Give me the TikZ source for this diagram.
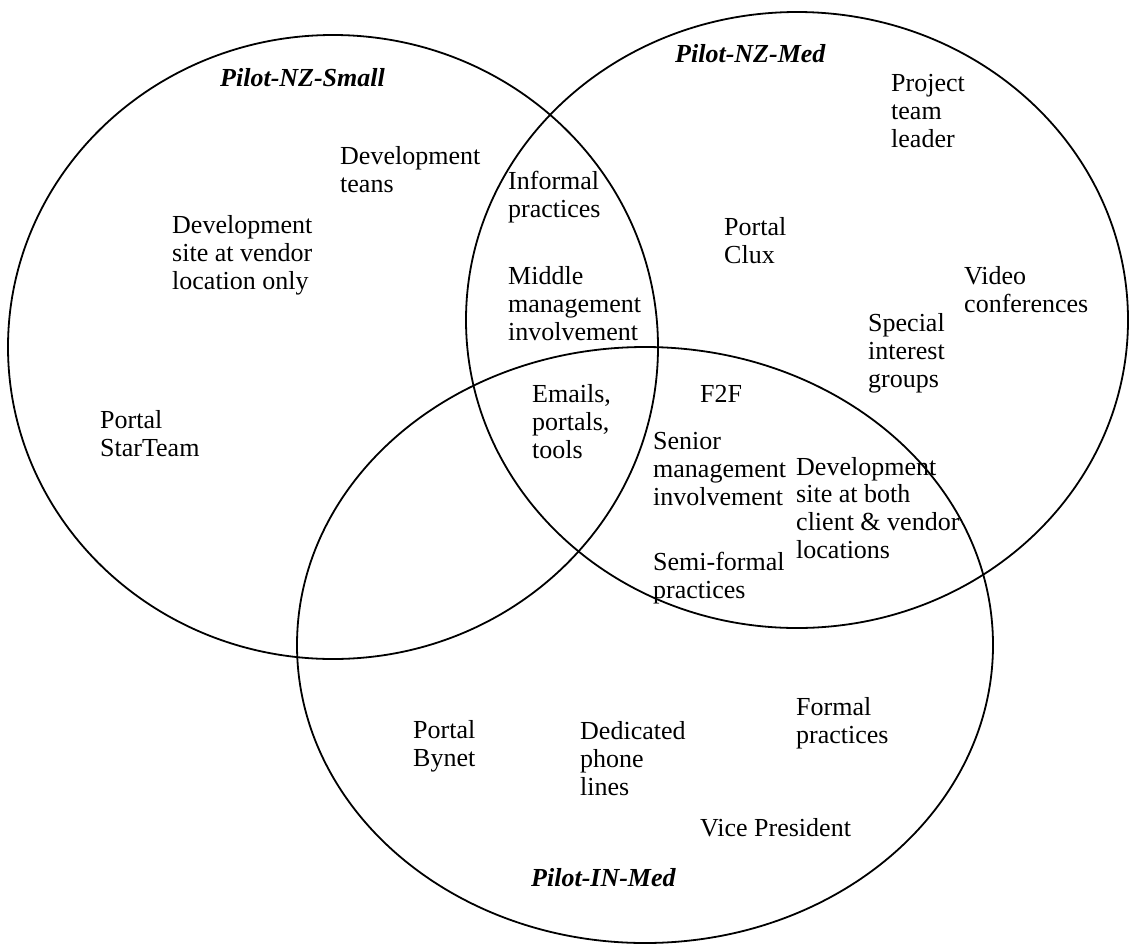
\documentclass[tikz,border=0pt]{standalone}
\usepackage{fontspec}
\setmainfont{Liberation Serif}
\begin{document}
\begin{tikzpicture}[x=1pt,y=-1pt,
  setline/.style={line width=1.8pt, black},
  % multi-line labels are placed by the baseline of their last line
  item/.style={anchor=base west, inner sep=0pt, align=left,
    font=\fontsize{26}{27.6}\selectfont},
  setname/.style={item, font=\fontsize{26}{27.6}\selectfont\bfseries\itshape}]
\useasboundingbox (0,0) rectangle (1130,946);

% the three sets
\draw[setline] (333,347) ellipse [x radius=325, y radius=312];
\draw[setline] (797,320) ellipse [x radius=331, y radius=308];
\draw[setline] (645,645) ellipse [x radius=348, y radius=298];

% set names
\node[setname] (nzsmall) at (220,86) {Pilot-NZ-Small};
\node[setname] (nzmed) at (675,62) {Pilot-NZ-Med};
\node[setname] (inmed) at (531,886) {Pilot-IN-Med};

% Pilot-NZ-Small only
\node[item] (devteans) at (340,192) {Development\\teans};
\node[item] (devvendor) at (172,289) {Development\\site at vendor\\location only};
\node[item] (starteam) at (100,456) {Portal\\StarTeam};

% Pilot-NZ-Small and Pilot-NZ-Med
\node[item] (informal) at (508,217) {Informal\\practices};
\node[item] (middle) at (508,340) {Middle\\management\\involvement};

% all three
\node[item] (emails) at (532,458) {Emails,\\portals,\\tools};

% Pilot-NZ-Med only
\node[item] (leader) at (891,147) {Project\\team\\leader};
\node[item] (clux) at (724,263) {Portal\\Clux};
\node[item] (video) at (964,312) {Video\\conferences};
\node[item] (sig) at (868,387) {Special\\interest\\groups};

% Pilot-NZ-Med and Pilot-IN-Med
\node[item] (f2f) at (700,402) {F2F};
\node[item] (senior) at (653,505) {Senior\\management\\involvement};
\node[item] (devboth) at (796,558) {Development\\site at both\\client \& vendor\\locations};
\node[item] (semiformal) at (653,598) {Semi-formal\\practices};

% Pilot-IN-Med only
\node[item] (bynet) at (413,766) {Portal\\Bynet};
\node[item] (phone) at (580,795) {Dedicated\\phone\\lines};
\node[item] (formal) at (796,743) {Formal\\practices};
\node[item] (vp) at (700,836) {Vice President};
\end{tikzpicture}
\end{document}
